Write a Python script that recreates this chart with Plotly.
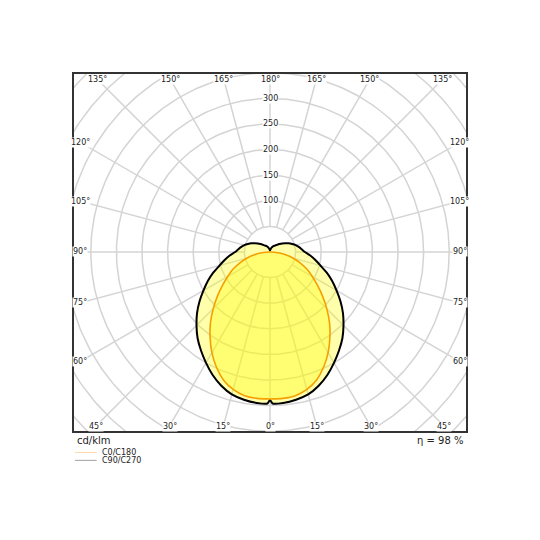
import numpy as np
import plotly.graph_objects as go

# light distribution, cd/klm, gamma 0 = straight down
gamma = [0, 1, 5, 10, 15, 20, 25, 30, 35, 40, 45, 50, 55, 60, 65, 70, 75, 80, 85, 90,
         95, 100, 105, 110, 115, 120, 125, 130, 135, 140, 145, 150, 155, 160, 165, 170, 175, 180]
c0_c180 = [287, 287, 287, 285, 278, 266, 248, 227, 204, 181, 157, 134, 113, 95, 80, 63, 47, 31, 16, 0,
           0, 0, 0, 0, 0, 0, 0, 0, 0, 0, 0, 0, 0, 0, 0, 0, 0, 0]
c90_c270 = [289, 296, 296, 293, 288, 278, 265, 250, 235, 220, 203, 186, 168, 150, 134, 118, 102, 90, 79, 68,
            62, 57, 52, 46, 40, 34, 29, 24, 20, 17, 15, 13, 11, 9, 7, 5, 4, 3]

ring_values = [50, 100, 150, 200, 250, 300, 350, 400, 450, 500]
ring_labels = [100, 150, 200, 250, 300]
spoke_angles = list(range(0, 360, 15))
eta_text = "η = 98 %"
unit_text = "cd/klm"
legend_names = ["C0/C180", "C90/C270"]
legend_colors = ["#fcd9a8", "#a0a0a0"]

X_RANGE = [-384.8, 384.8]
Y_RANGE = [-351.6, 349.6]


def to_xy(angles, values):
    # both half planes, mirrored: left side from 180 down to 0, right side 0 up to 180
    a = np.radians(angles)
    v = np.array(values, dtype=float)
    xl, yl = -v * np.sin(a), -v * np.cos(a)
    xr, yr = v * np.sin(a), -v * np.cos(a)
    x = np.concatenate([xl[::-1], xr[1:]])
    y = np.concatenate([yl[::-1], yr[1:]])
    return x, y


fig = go.Figure()

# grid: rings and spokes
t = np.linspace(0, 2 * np.pi, 361)
gx, gy = [], []
for r in ring_values:
    gx += list(r * np.sin(t)) + [None]
    gy += list(r * np.cos(t)) + [None]
for ang in spoke_angles:
    a = np.radians(ang)
    gx += [50 * np.sin(a), 700 * np.sin(a), None]
    gy += [-50 * np.cos(a), -700 * np.cos(a), None]
fig.add_trace(go.Scatter(x=gx, y=gy, mode="lines", line=dict(color="#d4d4d4", width=1.5),
                         hoverinfo="skip", showlegend=False))

# C90/C270 (outer, black outline)
x90, y90 = to_xy(gamma, c90_c270)
fig.add_trace(go.Scatter(x=x90, y=y90, mode="lines", fill="toself",
                         fillcolor="rgba(255,255,0,0.33)",
                         line=dict(color="black", width=2, shape="spline", smoothing=0.6),
                         name=legend_names[1], showlegend=False))

# C0/C180 (inner, orange)
idx = [i for i, g in enumerate(gamma) if g <= 90]
x0, y0 = to_xy([gamma[i] for i in idx], [c0_c180[i] for i in idx])
fig.add_trace(go.Scatter(x=x0, y=y0, mode="lines", fill="toself",
                         fillcolor="rgba(255,250,0,0.33)",
                         line=dict(color="#f5a000", width=1.6, shape="spline", smoothing=0.6),
                         name=legend_names[0], showlegend=False))

annotations = []
lab_font = dict(family="DejaVu Sans", size=8, color="#222")

# intensity labels along the 180 degree line
for v in ring_labels:
    annotations.append(dict(x=0, y=v, text=str(v), showarrow=False, font=lab_font,
                            bgcolor="white", borderpad=0))

# angle labels where the spokes meet the frame
top_y = 336
bot_y = -340
side_x = 371
for ang in range(0, 181, 15):
    a = np.radians(ang)
    if ang <= 45:
        xx = -bot_y * np.tan(a)
        pts = [(-xx, bot_y), (xx, bot_y)]
    elif ang < 135:
        yy = -side_x / np.tan(a)
        pts = [(-side_x, yy), (side_x, yy)]
    else:
        xx = top_y * np.tan(np.pi - a)
        pts = [(-xx, top_y), (xx, top_y)]
    seen = set()
    for px, py in pts:
        key = round(px, 3)
        if key in seen:
            continue
        seen.add(key)
        annotations.append(dict(x=px, y=py, text=f"{ang}°", showarrow=False, font=lab_font,
                                bgcolor="white", borderpad=0))

# texts under the frame
annotations.append(dict(xref="paper", yref="paper", x=0.005, y=-0.002, text=unit_text,
                        showarrow=False, xanchor="left", yanchor="top",
                        font=dict(family="DejaVu Sans", size=10, color="#222")))
annotations.append(dict(xref="paper", yref="paper", x=0.995, y=-0.002, text=eta_text,
                        showarrow=False, xanchor="right", yanchor="top",
                        font=dict(family="DejaVu Sans", size=10, color="#222")))

shapes = [dict(type="rect", xref="paper", yref="paper", x0=0, y0=0, x1=1, y1=1,
               line=dict(color="#333", width=2), layer="above")]
for i, (name, col) in enumerate(zip(legend_names, legend_colors)):
    yp = -0.057 - i * 0.022
    shapes.append(dict(type="line", xref="paper", yref="paper", x0=0.005, x1=0.06, y0=yp, y1=yp,
                       line=dict(color=col, width=1)))
    annotations.append(dict(xref="paper", yref="paper", x=0.068, y=yp, text=name,
                            showarrow=False, xanchor="left", yanchor="middle",
                            font=dict(family="DejaVu Sans", size=8, color="#222")))

# page body has an 8px margin, so the plot box is pulled up-left by that much
fig.update_layout(
    width=540, height=540,
    margin=dict(l=65, r=81, t=65, b=116),
    paper_bgcolor="white", plot_bgcolor="white",
    xaxis=dict(range=X_RANGE, visible=False, fixedrange=True),
    yaxis=dict(range=Y_RANGE, visible=False, fixedrange=True),
    annotations=annotations,
    shapes=shapes,
    showlegend=False,
)

fig.write_html("out.html")
